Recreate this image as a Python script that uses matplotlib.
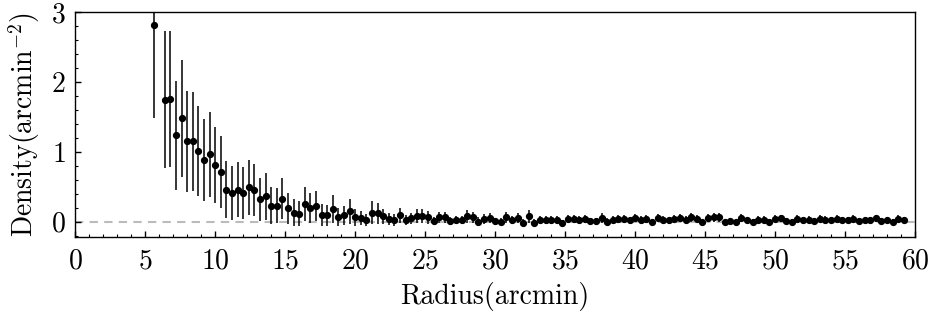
import matplotlib
matplotlib.use("Agg")
import matplotlib.pyplot as plt
from matplotlib.ticker import MultipleLocator, AutoMinorLocator

plt.rcParams.update({
    "font.family": "serif",
    "font.serif": ["cmr10"],
    "mathtext.fontset": "cm",
    "axes.formatter.use_mathtext": True,
    "font.size": 20,
})

# radius bins (arcmin)
radius = [5.6, 6.4, 6.8, 7.2, 7.6, 8.0, 8.4, 8.8, 9.2, 9.6,
          10.0, 10.4, 10.8, 11.2, 11.6, 12.0, 12.4, 12.8, 13.2, 13.6,
          14.0, 14.4, 14.8, 15.2, 15.6, 16.0, 16.4, 16.8, 17.2, 17.6,
          18.0, 18.4, 18.8, 19.2, 19.6, 20.0, 20.4, 20.8, 21.2, 21.6,
          22.0, 22.4, 22.8, 23.2, 23.6, 24.0, 24.4, 24.8, 25.2, 25.6,
          26.0, 26.4, 26.8, 27.2, 27.6, 28.0, 28.4, 28.8, 29.2, 29.6,
          30.0, 30.4, 30.8, 31.2, 31.6, 32.0, 32.4, 32.8, 33.2, 33.6,
          34.0, 34.4, 34.8, 35.2, 35.6, 36.0, 36.4, 36.8, 37.2, 37.6,
          38.0, 38.4, 38.8, 39.2, 39.6, 40.0, 40.4, 40.8, 41.2, 41.6,
          42.0, 42.4, 42.8, 43.2, 43.6, 44.0, 44.4, 44.8, 45.2, 45.6,
          46.0, 46.4, 46.8, 47.2, 47.6, 48.0, 48.4, 48.8, 49.2, 49.6,
          50.0, 50.4, 50.8, 51.2, 51.6, 52.0, 52.4, 52.8, 53.2, 53.6,
          54.0, 54.4, 54.8, 55.2, 55.6, 56.0, 56.4, 56.8, 57.2, 57.6,
          58.0, 58.4, 58.8, 59.2]

density = [2.82, 1.745, 1.755, 1.24, 1.48, 1.15, 1.15, 1.01, 0.88, 0.966,
           0.81, 0.71, 0.46, 0.41, 0.46, 0.41, 0.49, 0.45, 0.32, 0.36,
           0.23, 0.23, 0.33, 0.19, 0.13, 0.11, 0.25, 0.196, 0.225, 0.09,
           0.09, 0.18, 0.06, 0.09, 0.15, 0.06, 0.05, 0.024, 0.13, 0.12,
           0.077, 0.04, 0.024, 0.09, 0.024, 0.05, 0.077, 0.077, 0.06, 0.005,
           0.06, 0.06, 0.005, 0.024, 0.024, 0.077, 0.06, 0.0, 0.04, 0.05,
           0.005, -0.005, 0.06, 0.024, 0.05, -0.015, 0.077, -0.015, 0.024, 0.024,
           0.024, 0.024, -0.015, 0.04, 0.04, 0.024, 0.04, 0.005, 0.005, 0.05,
           -0.005, 0.024, 0.04, 0.04, 0.02, 0.05, 0.03, 0.04, 0.0, 0.05,
           0.03, 0.02, 0.04, 0.05, 0.03, 0.06, 0.04, -0.01, 0.05, 0.06,
           0.06, 0.0, 0.01, -0.01, 0.05, 0.02, 0.0, 0.03, 0.03, -0.01,
           0.04, 0.05, 0.01, 0.0, 0.04, 0.02, 0.03, 0.01, 0.04, 0.03,
           0.02, 0.04, 0.03, 0.02, 0.04, 0.01, 0.03, 0.02, 0.05, 0.01,
           0.03, 0.0, 0.04, 0.03]

density_err = [1.34, 0.98, 0.97, 0.78, 0.84, 0.72, 0.71, 0.65, 0.59, 0.61,
               0.55, 0.51, 0.41, 0.38, 0.39, 0.37, 0.39, 0.37, 0.31, 0.33,
               0.26, 0.25, 0.29, 0.22, 0.19, 0.18, 0.24, 0.21, 0.21, 0.16,
               0.15, 0.2, 0.13, 0.14, 0.18, 0.12, 0.10, 0.08, 0.16, 0.15,
               0.11, 0.09, 0.08, 0.11, 0.07, 0.08, 0.1, 0.1, 0.09, 0.06,
               0.08, 0.08, 0.06, 0.06, 0.06, 0.09, 0.08, 0.06, 0.07, 0.07,
               0.05, 0.05, 0.08, 0.06, 0.07, 0.05, 0.09, 0.05, 0.05, 0.06,
               0.06, 0.05, 0.04, 0.06, 0.06, 0.05, 0.06, 0.05, 0.05, 0.07,
               0.05, 0.05, 0.06, 0.06, 0.05, 0.06, 0.05, 0.06, 0.04, 0.06,
               0.05, 0.05, 0.05, 0.06, 0.05, 0.06, 0.05, 0.04, 0.06, 0.06,
               0.06, 0.04, 0.04, 0.04, 0.06, 0.04, 0.04, 0.05, 0.05, 0.04,
               0.05, 0.05, 0.04, 0.04, 0.05, 0.04, 0.05, 0.04, 0.05, 0.05,
               0.04, 0.05, 0.04, 0.04, 0.05, 0.04, 0.04, 0.04, 0.05, 0.04,
               0.04, 0.04, 0.05, 0.04]

fig = plt.figure(figsize=(9.32, 3.14), dpi=100)
ax = fig.add_axes([0.0808, 0.2443, 0.9010, 0.7165])

ax.axhline(0, color="#bbbbbb", lw=1.5, ls=(0, (4, 3)), zorder=1)
ax.errorbar(radius, density, yerr=density_err, fmt="o", color="black",
            ms=4.2, elinewidth=1.1, capsize=0, zorder=3)

ax.set_xlim(0, 60)
ax.set_ylim(-0.225, 3)
ax.xaxis.set_major_locator(MultipleLocator(5))
ax.xaxis.set_minor_locator(AutoMinorLocator(5))
ax.yaxis.set_major_locator(MultipleLocator(1))
ax.yaxis.set_minor_locator(AutoMinorLocator(5))
ax.tick_params(which="both", direction="in", top=False, right=False)
ax.tick_params(which="major", length=4, width=1, labelsize=20)
ax.tick_params(axis="x", which="major", pad=8)
ax.tick_params(axis="y", which="major", pad=7)
ax.tick_params(which="minor", length=2, width=0.8)
for s in ax.spines.values():
    s.set_linewidth(1)

ax.set_xlabel("Radius(arcmin)", fontsize=20, labelpad=5)
ax.set_ylabel("Density(arcmin$^{-2}$)", fontsize=20, labelpad=6)

fig.savefig("out.png", dpi=100)
